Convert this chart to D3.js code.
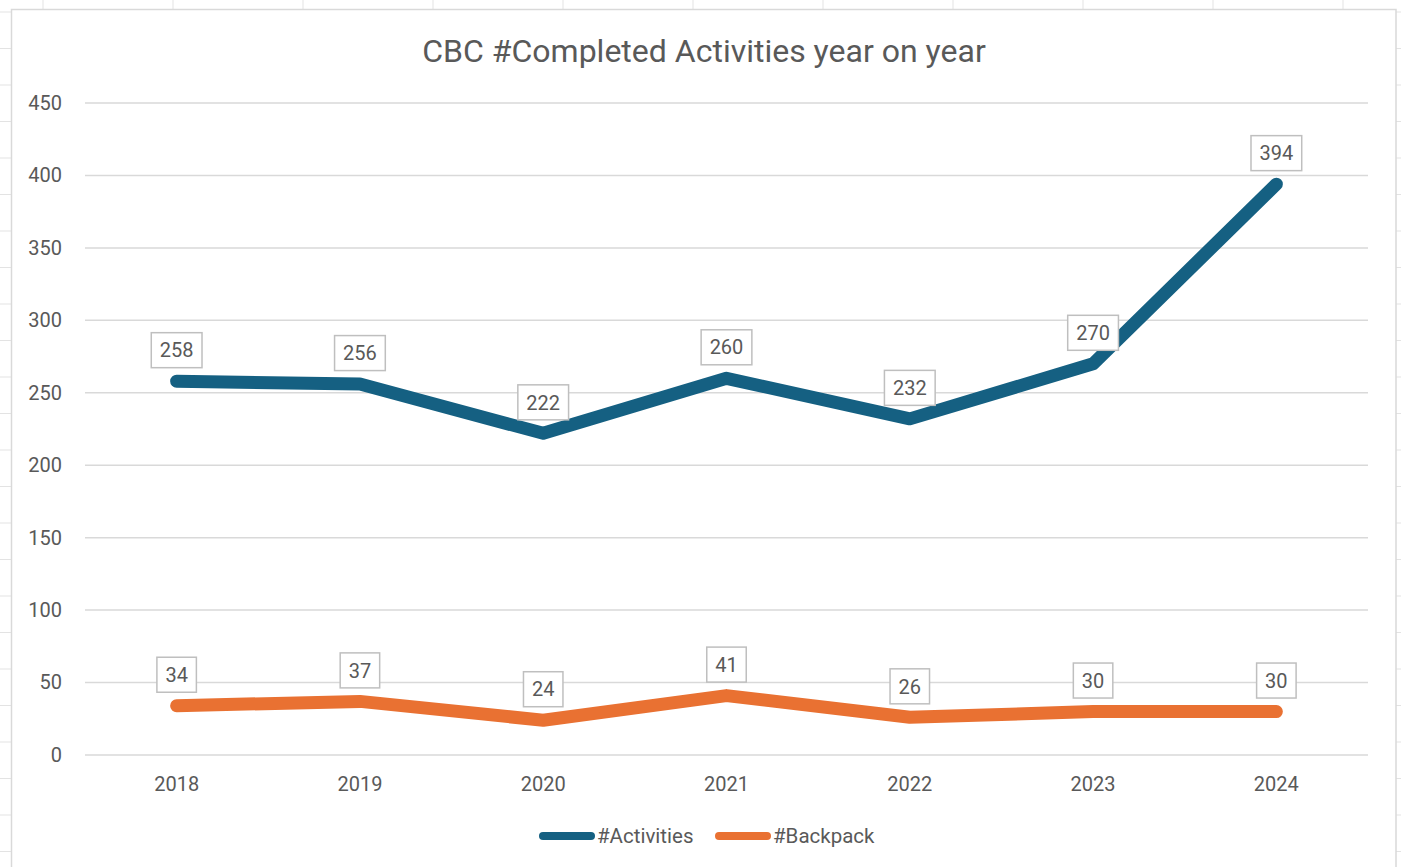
<!DOCTYPE html>
<html>
<head>
<meta charset="utf-8">
<script src="https://cdn.jsdelivr.net/npm/d3@7"></script>
<style>
  body { margin: 0; background: #fff; }
  text { font-family: Roboto, "Liberation Sans", sans-serif; fill: #595959; }
</style>
</head>
<body>
<svg id="chart" width="1401" height="867"></svg>
<script>
// valeurs
var years = ["2018", "2019", "2020", "2021", "2022", "2023", "2024"];
var activities = [258, 256, 222, 260, 232, 270, 394];
var backpack = [34, 37, 24, 41, 26, 30, 30];
var yTicks = [0, 50, 100, 150, 200, 250, 300, 350, 400, 450];
var seriesNames = ["#Activities", "#Backpack"];
var seriesColors = ["#156082", "#E97132"];

var W = 1401, H = 867;
var svg = d3.select("#chart");

// fond tableur (quadrillage des cellules)
var bg = svg.append("g");
d3.range(43, W, 130).forEach(function (x) {
  bg.append("line").attr("x1", x).attr("x2", x).attr("y1", 0).attr("y2", H)
    .attr("stroke", "#e3e3e3").attr("stroke-width", 1);
});
d3.range(12, H, 36.5).forEach(function (y) {
  bg.append("line").attr("x1", 0).attr("x2", W).attr("y1", y).attr("y2", y)
    .attr("stroke", "#e3e3e3").attr("stroke-width", 1);
});

// zone du graphique
svg.append("rect")
  .attr("x", 11.5).attr("y", 9.5).attr("width", 1384.5).attr("height", 900)
  .attr("fill", "#fff").attr("stroke", "#d9d9d9").attr("stroke-width", 1.5);

var plotLeft = 85, plotRight = 1368, plotTop = 103, plotBottom = 755;

var x = d3.scaleBand().domain(years).range([plotLeft, plotRight]);
var y = d3.scaleLinear().domain([0, 450]).range([plotBottom, plotTop]);

// titre
svg.append("text")
  .attr("x", 704).attr("y", 62)
  .attr("text-anchor", "middle")
  .style("font-size", "32px")
  .text("CBC #Completed Activities year on year");

// grille horizontale
svg.append("g").selectAll("line").data(yTicks).enter().append("line")
  .attr("x1", plotLeft).attr("x2", plotRight)
  .attr("y1", function (d) { return y(d); })
  .attr("y2", function (d) { return y(d); })
  .attr("stroke", "#d9d9d9").attr("stroke-width", 1.5);

// axe Y
var yAxis = svg.append("g")
  .attr("transform", "translate(" + 62 + ",0)")
  .call(d3.axisLeft(y).tickValues(yTicks).tickSize(0).tickPadding(0));
yAxis.select(".domain").remove();
yAxis.selectAll("text").style("font-size", "20px").attr("fill", "#595959")
  .style("font-family", "Roboto, sans-serif");

// axe X
var xAxis = svg.append("g")
  .attr("transform", "translate(0," + 773 + ")")
  .call(d3.axisBottom(x).tickSize(0).tickPadding(0));
xAxis.select(".domain").remove();
xAxis.selectAll("text").style("font-size", "20px").attr("fill", "#595959")
  .attr("dy", "0.9em")
  .style("font-family", "Roboto, sans-serif");

var line = d3.line()
  .x(function (d, i) { return x(years[i]) + x.bandwidth() / 2; })
  .y(function (d) { return y(d); });

var allSeries = [activities, backpack];

allSeries.forEach(function (vals, s) {
  svg.append("path")
    .datum(vals)
    .attr("d", line)
    .attr("fill", "none")
    .attr("stroke", seriesColors[s])
    .attr("stroke-width", 13)
    .attr("stroke-linecap", "round")
    .attr("stroke-linejoin", "round");
});

// étiquettes de données
allSeries.forEach(function (vals, s) {
  var g = svg.append("g");
  vals.forEach(function (v, i) {
    var cx = x(years[i]) + x.bandwidth() / 2;
    var cy = y(v) - 31;
    var lab = g.append("g");
    var t = lab.append("text")
      .attr("x", cx).attr("y", cy)
      .attr("text-anchor", "middle")
      .attr("dy", "0.36em")
      .style("font-size", "20px")
      .text(v);
    var w = t.node().getComputedTextLength() + 17;
    lab.insert("rect", "text")
      .attr("x", cx - w / 2).attr("y", cy - 17.5)
      .attr("width", w).attr("height", 35)
      .attr("fill", "#fff").attr("stroke", "#bfbfbf").attr("stroke-width", 1.5);
  });
});

// légende
var legendX = [540, 716];
seriesNames.forEach(function (name, s) {
  svg.append("line")
    .attr("x1", legendX[s] + 3).attr("x2", legendX[s] + 51)
    .attr("y1", 836).attr("y2", 836)
    .attr("stroke", seriesColors[s]).attr("stroke-width", 8)
    .attr("stroke-linecap", "round");
  svg.append("text")
    .attr("x", legendX[s] + 57).attr("y", 836)
    .attr("dy", "0.36em")
    .style("font-size", "20.5px")
    .text(name);
});
</script>
</body>
</html>
